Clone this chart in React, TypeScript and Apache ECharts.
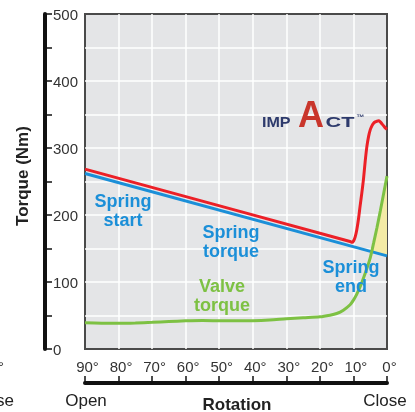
import React, { useEffect, useRef } from "react";
import * as echarts from "echarts";

// ---- data (angle in degrees, torque in Nm) ----
const angleMin = 0;
const angleMax = 90;
const angleStep = 10;
const torqueMin = 0;
const torqueMax = 500;
const torqueStep = 50;

const springTorque: [number, number][] = [
  [90, 262],
  [0, 139],
];

const totalTorque: [number, number][] = [
  [90, 268.5], [11, 160.5], [10.4, 159.3], [10, 161], [9.5, 167], [9, 178],
  [8.5, 194], [8, 214], [7.5, 233], [7, 254], [6.5, 280], [6, 302],
  [5.5, 317], [5, 327], [4.5, 333], [4, 337], [3.5, 339], [3, 340],
  [2.5, 340.5], [2, 339], [1.5, 336], [1, 333], [0.5, 330], [0, 328],
];

const valveTorque: [number, number][] = [
  [90, 39], [85, 38.5], [80, 38.3], [75, 38.8], [70, 39.8], [65, 41],
  [60, 42], [55, 42.5], [50, 42.2], [45, 42], [40, 42.3], [35, 43.3],
  [30, 45], [25, 46.5], [20, 48], [17, 50.5], [15, 53], [13, 58],
  [11, 66], [10, 73], [9, 82], [8, 93], [7, 106], [6, 120], [5, 136],
  [4, 158], [3, 181], [2, 206], [1, 232], [0, 258],
];

const shadedArea: [number, number][] = [
  [4.55, 145.2], [4, 158], [3, 181], [2, 206], [1, 232], [0, 258], [0, 139],
];

const FONT = "'Liberation Sans', Arial, Helvetica, sans-serif";
const BLUE = "#1b8fd8";
const RED = "#ec2027";
const GREEN = "#7dc143";
const NAVY = "#2d3a6c";
const LOGO_RED = "#c9362c";

export default function App() {
  const ref = useRef<HTMLDivElement>(null);

  useEffect(() => {
    if (!ref.current) return;
    const chart = echarts.init(ref.current, undefined, { renderer: "svg" });

    const label = (text: string, x: number, y: number, color: string) => ({
      type: "text",
      x,
      y,
      z: 50,
      style: {
        text,
        fill: color,
        font: `bold 18px ${FONT}`,
        align: "center",
        verticalAlign: "middle",
        lineHeight: 19,
      },
    });

    const plain = (
      text: string,
      x: number,
      y: number,
      opts: { bold?: boolean; size?: number; align?: string; color?: string; rotation?: number; scaleX?: number } = {}
    ) => ({
      type: "text",
      x,
      y,
      rotation: opts.rotation || 0,
      scaleX: opts.scaleX || 1,
      z: 50,
      style: {
        text,
        fill: opts.color || "#222",
        font: `${opts.bold ? "bold " : ""}${opts.size || 17}px ${FONT}`,
        align: opts.align || "center",
        verticalAlign: "middle",
      },
    });

    chart.setOption({
      animation: false,
      grid: {
        left: 85,
        right: 28,
        top: 14,
        bottom: 63,
        show: true,
        backgroundColor: "#e4e5e7",
        borderColor: "#4a4a4a",
        borderWidth: 2,
      },
      xAxis: [
        {
          type: "value",
          min: angleMin,
          max: angleMax,
          interval: angleStep,
          inverse: true,
          position: "top",
          axisLine: { show: false, onZero: false },
          axisTick: { show: false },
          axisLabel: { show: false },
          splitLine: {
            show: true,
            showMinLine: false,
            showMaxLine: false,
            lineStyle: { color: "#ffffff", width: 1.5 },
          },
        },
        {
          type: "value",
          min: angleMin,
          max: angleMax,
          interval: angleStep,
          inverse: true,
          position: "bottom",
          offset: 34,
          axisLine: { show: true, onZero: false, lineStyle: { color: "#111", width: 4 } },
          axisTick: { show: true, inside: true, length: 7, lineStyle: { color: "#111", width: 1.5 } },
          axisLabel: {
            inside: true,
            margin: 9,
            formatter: (v: number) => `${v}°`,
            fontSize: 15,
            fontFamily: FONT,
            color: "#333",
            padding: [0, 0, 0, 5],
            showMinLabel: true,
            showMaxLabel: true,
          },
          splitLine: { show: false },
        },
      ],
      yAxis: [
        {
          type: "value",
          min: torqueMin,
          max: torqueMax,
          interval: torqueStep,
          position: "right",
          axisLine: { show: false, onZero: false },
          axisTick: { show: false },
          axisLabel: { show: false },
          splitLine: {
            show: true,
            showMinLine: false,
            showMaxLine: false,
            lineStyle: { color: "#ffffff", width: 1.5 },
          },
        },
        {
          type: "value",
          min: torqueMin,
          max: torqueMax,
          interval: torqueStep,
          position: "left",
          offset: 40,
          axisLine: { show: true, onZero: false, lineStyle: { color: "#111", width: 4 } },
          axisTick: { show: true, inside: true, length: 7, lineStyle: { color: "#111", width: 1.5 } },
          axisLabel: {
            inside: true,
            margin: 8,
            formatter: (v: number) => (v % 100 === 0 ? String(v) : ""),
            fontSize: 15,
            fontFamily: FONT,
            color: "#333",
            showMinLabel: true,
            showMaxLabel: true,
          },
          splitLine: { show: false },
        },
      ],
      series: [
        {
          type: "custom",
          name: "Shaded",
          xAxisIndex: 0,
          yAxisIndex: 0,
          z: 1,
          data: [[0, 0]],
          renderItem: (_params: any, api: any) => ({
            type: "polygon",
            shape: { points: shadedArea.map((p) => api.coord(p)) },
            style: { fill: "#f4eba6" },
          }),
        },
        {
          type: "line",
          name: "Spring torque",
          xAxisIndex: 0,
          yAxisIndex: 0,
          data: springTorque,
          showSymbol: false,
          z: 3,
          lineStyle: { color: BLUE, width: 3 },
        },
        {
          type: "line",
          name: "Total torque",
          xAxisIndex: 0,
          yAxisIndex: 0,
          data: totalTorque,
          showSymbol: false,
          smooth: 0.3,
          z: 4,
          lineStyle: { color: RED, width: 3 },
        },
        {
          type: "line",
          name: "Valve torque",
          xAxisIndex: 0,
          yAxisIndex: 0,
          data: valveTorque,
          showSymbol: false,
          smooth: 0.3,
          z: 5,
          lineStyle: { color: GREEN, width: 3 },
        },
      ],
      graphic: [
        label("Spring\nstart", 123, 210, BLUE),
        label("Spring\ntorque", 231, 241, BLUE),
        label("Valve\ntorque", 222, 295, GREEN),
        label("Spring\nend", 351, 276, BLUE),
        plain("Torque (Nm)", 22.5, 176, { bold: true, rotation: Math.PI / 2 }),
        plain("Open", 86, 400),
        plain("Close", 385, 400),
        plain("Rotation", 237, 404, { bold: true }),
        plain("Close", 14, 400, { align: "right" }),
        plain("0°", 4, 366, { align: "right", size: 15, color: "#333" }),
        // logo
        plain("IMP", 262, 122, { bold: true, size: 14, align: "left", color: NAVY, scaleX: 1.15 }),
        plain("A", 311, 114, { bold: true, size: 36, color: LOGO_RED }),
        plain("CT", 325.5, 122, { bold: true, size: 14, align: "left", color: NAVY, scaleX: 1.55 }),
        plain("™", 356.5, 117.5, { bold: true, size: 8, align: "left", color: NAVY }),
      ],
    });

    return () => chart.dispose();
  }, []);

  return (
    <div
      ref={ref}
      style={{ position: "fixed", left: 0, top: 0, width: 415, height: 412 }}
    />
  );
}
